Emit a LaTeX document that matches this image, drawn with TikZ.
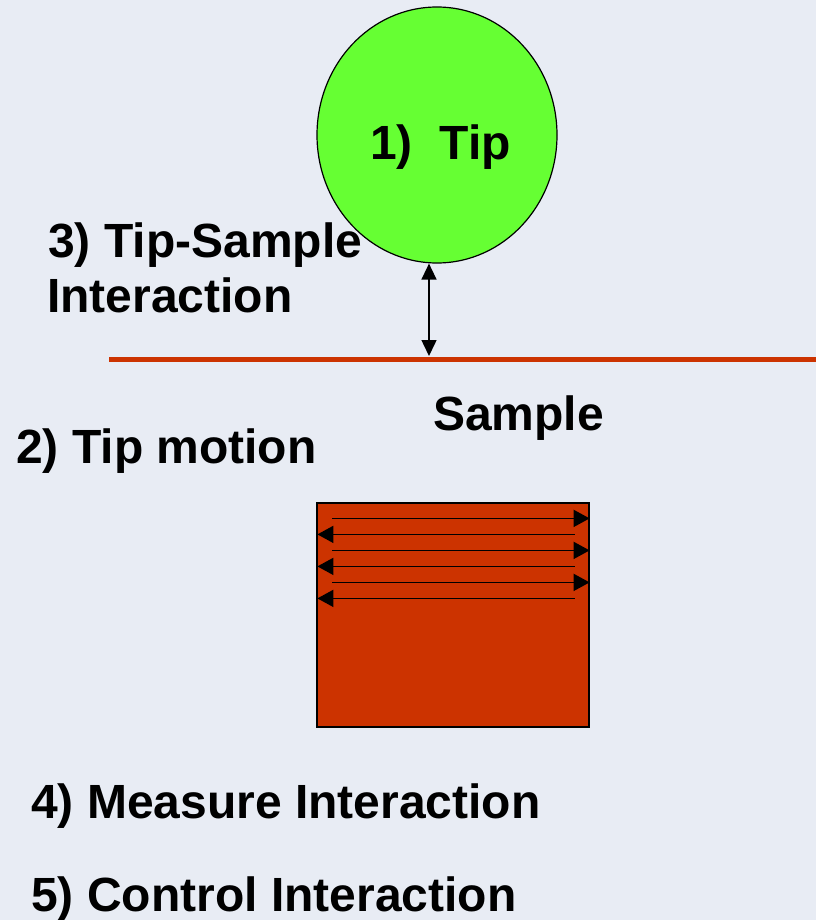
\documentclass[tikz,border=0pt]{standalone}
\usepackage{fontspec}
\setmainfont{Liberation Sans}
\usepackage{tikz}
\usetikzlibrary{calc,positioning,shapes.geometric,arrows.meta}
\definecolor{afmbg}{RGB}{232,236,244}
\definecolor{afmgreen}{RGB}{102,255,51}
\definecolor{afmred}{RGB}{204,51,0}
\tikzset{
 afm tip/.style={ellipse,fill=afmgreen,draw=black,line width=1.2pt,
                 minimum width=240pt,minimum height=256pt,inner sep=0pt},
 afm scan/.style={rectangle,fill=afmred,draw=black,line width=1.2pt,
                  minimum width=272pt,minimum height=224pt,inner sep=0pt},
 afm surface/.style={line width=5pt,afmred},
 afm gap/.style={line width=1.5pt,{Triangle[length=16pt,width=15pt]}-{Triangle[length=16pt,width=15pt]}},
 afm raster/.style={line width=1.8pt,-{Triangle[length=16pt,width=17pt]}},
 afm label/.style={anchor=base west,inner sep=0pt,
                   font=\fontsize{48}{55}\selectfont\bfseries}
}
\begin{document}
\begin{tikzpicture}[x=1pt,y=-1pt]
 \useasboundingbox[fill=afmbg] (0,0) rectangle (816,920);
 % tip and sample surface
 \node[afm tip] (tip) at (437,135) {};
 \node[afm label] (tiplbl) at (370,160) {1)\ \ Tip};
 \coordinate (surfL) at (109,359);
 \coordinate (surfR) at (816,359);
 \draw[afm surface] (surfL)--(surfR);
 \coordinate (gap) at (429,356);
 \draw[afm gap] (gap |- tip.south)--(gap);
 \node[afm label] (lbl3a) at (48,257) {3) Tip-Sample};
 \node[afm label] (lbl3b) at (47,312) {Interaction};
 \node[afm label] (lblsample) at (433,430) {Sample};
 \node[afm label] (lbl2) at (16,463) {2) Tip motion};
 % raster scan
 \node[afm scan] (scan) at (453,615) {};
 \foreach \k in {0,1,2}{
   \coordinate (fwdA\k) at ($(scan.north west)+(16,16+32*\k)$);
   \coordinate (fwdB\k) at ($(scan.north east)+(0,16+32*\k)$);
   \coordinate (bckA\k) at ($(scan.north east)+(-15,32+32*\k)$);
   \coordinate (bckB\k) at ($(scan.north west)+(1,32+32*\k)$);
   \draw[afm raster] (fwdA\k)--(fwdB\k);
   \draw[afm raster] (bckA\k)--(bckB\k);
 }
 \node[afm label] (lbl4) at (31,818) {4) Measure Interaction};
 \node[afm label] (lbl5) at (31,911) {5) Control Interaction};
\end{tikzpicture}
\end{document}
